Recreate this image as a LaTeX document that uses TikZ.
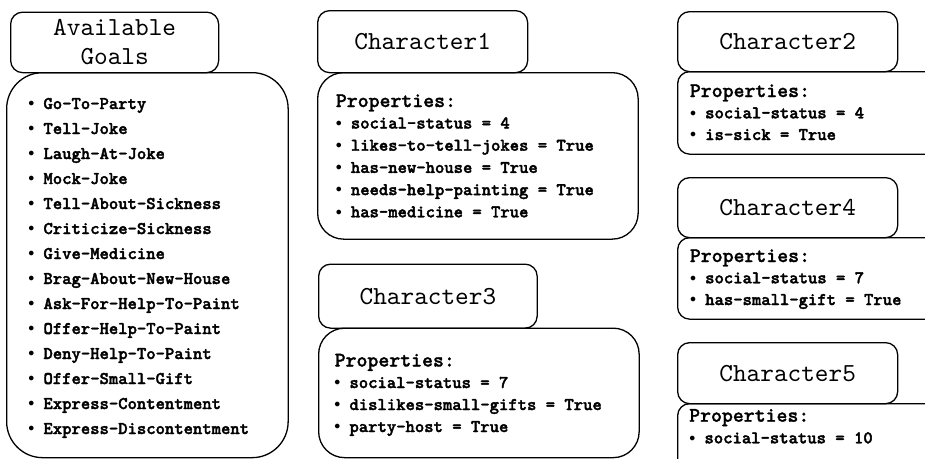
\documentclass[tikz,border=0pt]{standalone}
\usepackage{fontspec}
\newfontfamily\darktt{lmmonolt10-bold.otf}[FakeBold=2]
\newfontfamily\medtt{lmmonolt10-bold.otf}[FakeBold=1.3]
\newfontfamily\regtt{lmmono10-regular.otf}
\tikzset{
  box/.style={draw=black, line width=1.3pt, inner sep=0pt, anchor=north west},
  titlebox/.style={box, rounded corners=12pt, font=\regtt\fontsize{26}{29}\selectfont, align=center},
  propbox/.style={box, rounded corners=#1},
  propbox/.default=12pt,
  proptext/.style={anchor=base west, inner sep=0pt, font=\medtt\fontsize{20.8}{22}\selectfont},
  itemtext/.style={anchor=base west, inner sep=0pt, font=\darktt\fontsize{17.8}{22}\selectfont},
}
\newcommand\bul{\makebox[1.05em][l]{\hspace{0.2em}\raisebox{0.12em}{$\scriptstyle\bullet$}}}
\newcommand\itemlines[5]{%
  \foreach \t [count=\i from 1] in {#5}{%
    \node[itemtext] (#1\i) at (#2,{#3+#4*(\i-1)}) {\bul\t};}}
\begin{document}
\begin{tikzpicture}[x=1pt,y=-1pt]
\useasboundingbox (0,0) rectangle (925,458);
\fill[white] (0,0) rectangle (925,458);
\clip (0,0) rectangle (925,458);
% Available goals
\node[titlebox, minimum width=208pt, minimum height=60.5pt] (agt) at (10,11.5) {Available\\Goals};
\node[propbox=36pt, minimum width=281.5pt, minimum height=385pt] (agl) at (6,72) {};
\itemlines{g}{24.6}{109}{25}{Go-To-Party,Tell-Joke,Laugh-At-Joke,Mock-Joke,Tell-About-Sickness,Criticize-Sickness,Give-Medicine,Brag-About-New-House,Ask-For-Help-To-Paint,Offer-Help-To-Paint,Deny-Help-To-Paint,Offer-Small-Gift,Express-Contentment,Express-Discontentment}
% Character1
\node[titlebox, minimum width=210pt, minimum height=62pt] (c1t) at (317,10) {Character1};
\node[propbox=26pt, minimum width=320.5pt, minimum height=166.5pt] (c1p) at (317,72) {};
\node[proptext] (c1h) at (335.7,107) {Properties:};
\itemlines{a}{332}{128.5}{22.2}{social-status = 4,likes-to-tell-jokes = True,has-new-house = True,needs-help-painting = True,has-medicine = True}
% Character3
\node[titlebox, minimum width=218.5pt, minimum height=64pt] (c3t) at (318,263.5) {Character3};
\node[propbox=26pt, minimum width=320.5pt, minimum height=129.5pt] (c3p) at (318,327.5) {};
\node[proptext] (c3h) at (334.5,366.5) {Properties:};
\itemlines{c}{330.6}{388}{22}{social-status = 7,dislikes-small-gifts = True,party-host = True}
% Character2
\node[titlebox, minimum width=220pt, minimum height=60pt] (c2t) at (677,11) {Character2};
\node[propbox, minimum width=260pt, minimum height=82.5pt] (c2p) at (677,71) {};
\node[proptext] (c2h) at (689.7,97) {Properties:};
\itemlines{b}{686.3}{118.3}{21.7}{social-status = 4,is-sick = True}
% Character4
\node[titlebox, minimum width=220pt, minimum height=60pt] (c4t) at (677,177) {Character4};
\node[propbox, minimum width=260pt, minimum height=81.5pt] (c4p) at (677,237) {};
\node[proptext] (c4h) at (689.7,262) {Properties:};
\itemlines{d}{686.3}{283.3}{21.7}{social-status = 7,has-small-gift = True}
% Character5
\node[titlebox, minimum width=220pt, minimum height=61pt] (c5t) at (677,342) {Character5};
\node[propbox, minimum width=260pt, minimum height=80pt] (c5p) at (677,403) {};
\node[proptext] (c5h) at (689,421.7) {Properties:};
\itemlines{e}{685.6}{443.3}{21.7}{social-status = 10}
\end{tikzpicture}
\end{document}
